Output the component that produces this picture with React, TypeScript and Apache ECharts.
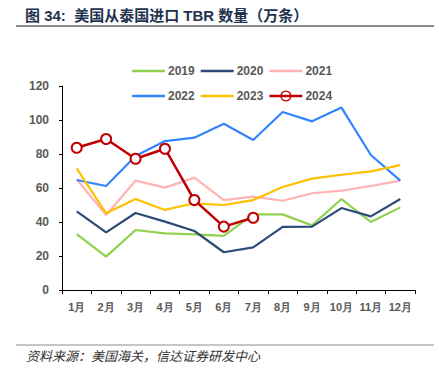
import React, { useEffect, useRef } from "react";
import * as echarts from "echarts";

const months = ["1月", "2月", "3月", "4月", "5月", "6月", "7月", "8月", "9月", "10月", "11月", "12月"];
const s2019 = [32.9, 19.6, 35.3, 33.3, 32.7, 31.8, 44.5, 44.5, 38, 53.5, 40, 48.6];
const s2020 = [46.3, 33.9, 45.3, 40.2, 34.7, 22.2, 25.1, 37.1, 37.3, 48.2, 43.3, 53.5];
const s2021 = [65, 44.1, 64.3, 60.2, 66.1, 52.9, 54.9, 52.5, 56.9, 58.4, 61.2, 64.3];
const s2022 = [64.7, 61.2, 78.8, 87.6, 89.6, 97.8, 88.2, 104.7, 99.2, 107.3, 79.4, 64.3];
const s2023 = [71.6, 45.1, 53.5, 47.1, 51, 50, 52.9, 60.6, 65.5, 67.8, 69.8, 73.5];
const s2024 = [83.7, 88.8, 77.2, 83.1, 52.9, 37.3, 42.5];
const yTicks = [0, 20, 40, 60, 80, 100, 120];

const titleText = "图 34:  美国从泰国进口 TBR 数量（万条）";
const sourceText = "资料来源：美国海关，信达证券研发中心";

const lineIcon = "path://M0,0 L33,0 L33,2.4 L0,2.4 Z";
const ringLineIcon =
  "path://M0,4.8 L33,4.8 L33,7.2 L0,7.2 Z " +
  "M16.5,0.4 A5.6,5.6 0 0,1 16.5,11.6 A5.6,5.6 0 0,1 16.5,0.4 Z " +
  "M16.5,1.7 A4.3,4.3 0 0,0 16.5,10.3 A4.3,4.3 0 0,0 16.5,1.7 Z";

export default function App() {
  const ref = useRef<HTMLDivElement>(null);
  useEffect(() => {
    if (!ref.current) return;
    const chart = echarts.init(ref.current, null, { renderer: "svg" });
    const labelFont = { fontFamily: "Liberation Sans, Arial, sans-serif", fontWeight: "bold" as const, color: "#595959" };
    const mk = (name: string, data: number[], color: string, extra: any = {}) => ({
      name,
      type: "line",
      data,
      symbol: "none",
      lineStyle: { color, width: 2.2 },
      itemStyle: { color },
      z: 2,
      ...extra,
    });
    const legendBase = {
      left: 127,
      itemWidth: 33,
      itemHeight: 12,
      itemGap: 6,
      itemStyle: { borderWidth: 0 },
      textStyle: { ...labelFont, fontSize: 12, padding: [0, 0, 0, -2] },
    };
    chart.setOption({
      animation: false,
      backgroundColor: "#ffffff",
      grid: { left: 62, right: 24, top: 86, bottom: 89, containLabel: false },
      legend: [
        {
          ...legendBase,
          top: 60,
          data: [
            { name: "2019", icon: lineIcon },
            { name: "2020", icon: lineIcon },
            { name: "2021", icon: lineIcon },
          ],
        },
        {
          ...legendBase,
          top: 85,
          data: [
            { name: "2022", icon: lineIcon },
            { name: "2023", icon: lineIcon },
            { name: "2024", icon: ringLineIcon, itemStyle: { color: "#C00000", borderWidth: 0 } },
          ],
        },
      ],
      xAxis: {
        type: "category",
        data: months,
        boundaryGap: true,
        axisLine: { lineStyle: { color: "#000", width: 1 } },
        axisTick: { show: true, length: 4, lineStyle: { color: "#000" } },
        axisLabel: { ...labelFont, fontSize: 11, margin: 11, interval: 0 },
      },
      yAxis: {
        type: "value",
        min: yTicks[0],
        max: yTicks[yTicks.length - 1],
        interval: 20,
        splitLine: { show: false },
        axisLine: { show: true, lineStyle: { color: "#000", width: 1 } },
        axisTick: { show: true, length: 3, lineStyle: { color: "#000" } },
        axisLabel: { ...labelFont, fontSize: 12, margin: 13 },
      },
      series: [
        mk("2019", s2019, "#92D050"),
        mk("2020", s2020, "#2E4A78"),
        mk("2021", s2021, "#FFB3B3"),
        mk("2022", s2022, "#3385FF"),
        mk("2023", s2023, "#FFC000"),
        mk("2024", s2024, "#C00000", {
          symbol: "emptyCircle",
          symbolSize: 10,
          showSymbol: true,
          lineStyle: { color: "#C00000", width: 2.5 },
          itemStyle: { color: "#C00000", borderColor: "#C00000", borderWidth: 1.5 },
          z: 5,
        }),
      ],
      graphic: [
        {
          type: "text",
          left: 25,
          top: 8,
          style: {
            text: titleText,
            font: "bold 15px 'Liberation Sans', 'Noto Sans CJK SC', sans-serif",
            fill: "#22324F",
          },
        },
        {
          type: "line",
          shape: { x1: 16, y1: 26, x2: 434, y2: 26 },
          style: { stroke: "#8C8C8C", lineWidth: 2 },
        },
        {
          type: "line",
          shape: { x1: 16, y1: 345, x2: 434, y2: 345 },
          style: { stroke: "#8C8C8C", lineWidth: 1 },
        },
        {
          type: "text",
          left: 26,
          top: 349,
          style: {
            text: sourceText,
            font: "italic 13px 'Noto Sans CJK SC', sans-serif",
            fill: "#333333",
          },
        },
      ],
    });
    return () => chart.dispose();
  }, []);
  return <div ref={ref} style={{ width: 439, height: 379, position: "absolute", left: 0, top: 0 }} />;
}
